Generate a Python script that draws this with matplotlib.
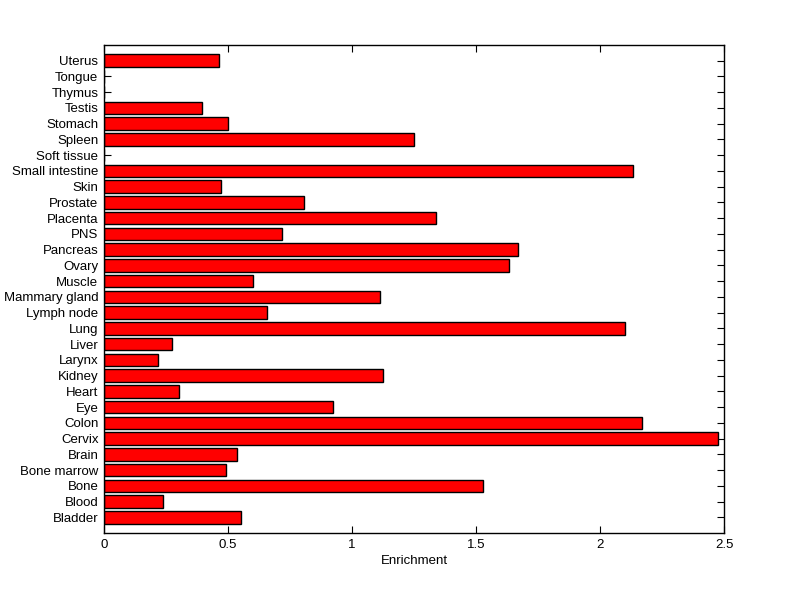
import matplotlib
matplotlib.use("Agg")
import matplotlib.pyplot as plt

plt.rcParams['font.family'] = ['Liberation Sans', 'DejaVu Sans']

# tissues, bottom to top
tissues = ["Bladder", "Blood", "Bone", "Bone marrow", "Brain", "Cervix", "Colon",
           "Eye", "Heart", "Kidney", "Larynx", "Liver", "Lung", "Lymph node",
           "Mammary gland", "Muscle", "Ovary", "Pancreas", "PNS", "Placenta",
           "Prostate", "Skin", "Small intestine", "Soft tissue", "Spleen",
           "Stomach", "Testis", "Thymus", "Tongue", "Uterus"]
enrichment = [0.554, 0.239, 1.528, 0.493, 0.538, 2.477, 2.171,
              0.925, 0.304, 1.127, 0.219, 0.276, 2.102, 0.659,
              1.114, 0.602, 1.635, 1.671, 0.718, 1.340,
              0.808, 0.473, 2.135, 0.0, 1.248,
              0.501, 0.395, 0.0, 0.0, 0.465]
xticks = [0, 0.5, 1, 1.5, 2, 2.5]
xticklabels = ["0", "0.5", "1", "1.5", "2", "2.5"]

fig = plt.figure(figsize=(8.0, 5.99), dpi=100)
ax = fig.add_axes([0.13, 0.11, 0.775, 0.815])

pos = list(range(1, len(tissues) + 1))
ax.barh(pos, enrichment, height=0.8, color="#ff0000", edgecolor="black",
        linewidth=1.0, zorder=2)

ax.set_xlim(0, 2.5)
ax.set_ylim(0, len(tissues) + 1)
ax.set_xticks(xticks)
ax.set_xticklabels(xticklabels)
ax.set_yticks(pos)
ax.set_yticklabels(tissues)
ax.set_axisbelow(True)

ax.tick_params(direction="in", length=5, width=0.8, top=True, right=True,
               labelsize=9.5, colors="black", pad=4)
for s in ax.spines.values():
    s.set_linewidth(1.0)
    s.set_zorder(3)

ax.set_xlabel("Enrichment", fontsize=9.5, labelpad=3)

fig.savefig("out.png", dpi=100, facecolor="white")
